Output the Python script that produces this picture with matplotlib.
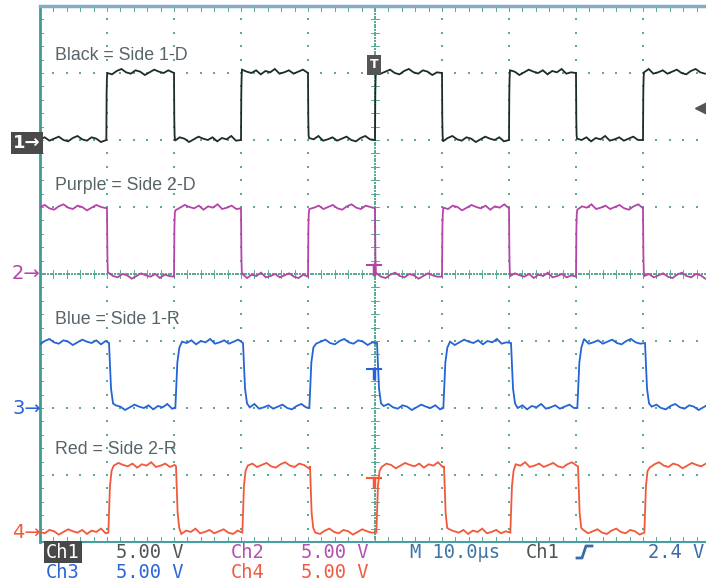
import numpy as np
import matplotlib
matplotlib.use("Agg")
import matplotlib.pyplot as plt
from matplotlib.lines import Line2D

# ---------------- data ----------------
time_range_us = [-50.0, 50.0]          # 10 div x 10.0 us/div
volts_per_div = 5.0
n_vdiv = 8

# toggle times (us) of each channel
ch1_edges = [-40.1, -30.0, -20.0, -10.0, 0.0, 10.0, 20.0, 30.0, 40.0]
ch2_edges = [-40.0, -30.0, -20.0, -10.0, 0.0, 10.0, 20.0, 30.0, 40.0]
ch3_edges = [-39.7, -29.8, -19.7, -9.8, 0.3, 10.2, 20.3, 30.2, 40.3]
ch4_edges = [-39.8, -29.7, -19.8, -9.7, 0.2, 10.3, 20.2, 30.3, 40.2]
ch_start_high = [False, True, True, False]
# levels (V)
ch_low = [0.0, -0.2, 0.0, -0.05]
ch_high = [5.0, 4.9, 4.85, 4.9]
# vertical position of channel ground (div)
ch_pos = [6.0, 4.0, 2.0, 0.15]
# small ripple seen on the flat parts (V)
ripple = [0.05, 0.2, -0.05, 0.1, 0.25, 0.0, -0.1, 0.15, 0.3, 0.05, -0.05, 0.2,
          0.1, -0.15, 0.05, 0.25, 0.1, 0.0, 0.2, -0.1, 0.15, 0.05, 0.3, -0.05]

labels = ["Black = Side 1-D", "Purple = Side 2-D", "Blue = Side 1-R", "Red = Side 2-R"]
ch_names = ["Ch1", "Ch2", "Ch3", "Ch4"]
ch_scale_text = ["5.00 V", "5.00 V", "5.00 V", "5.00 V"]
timebase_text = "M 10.0\u00b5s"
trig_src_text = "Ch1"
trig_level_text = "2.4 V"

# ---------------- styles ----------------
colors = ["#1c2c2a", "#b544a8", "#2563d6", "#f2583a"]
rise_us = [0.15, 0.2, 1.0, 0.8]
grid_col = "#5aab95"
W, H = 706, 587

fig = plt.figure(figsize=(W / 100, H / 100), dpi=100)
fig.patch.set_facecolor("white")
ax = fig.add_axes([40 / W, 45 / H, 670 / W, 536 / H])
ax.set_xlim(*time_range_us)
ax.set_ylim(0, n_vdiv)
ax.set_xticks([])
ax.set_yticks([])
ax.spines["right"].set_visible(False)
ax.spines["left"].set_color("#3f9a98")
ax.spines["left"].set_linewidth(2.0)
ax.spines["top"].set_color("#82acc0")
ax.spines["top"].set_linewidth(2.5)
ax.spines["bottom"].set_color("#4a9ea0")
ax.spines["bottom"].set_linewidth(1.5)

# ---------------- graticule ----------------
tmin, tmax = time_range_us
xdiv = np.arange(tmin, tmax + 0.01, 10.0)
for xv in xdiv[1:]:
    if abs(xv) < 1e-6:
        continue
    ys = np.arange(0, n_vdiv + 0.001, 0.2)
    ax.scatter(np.full_like(ys, xv), ys, s=1.8, marker="s", color=grid_col, lw=0, zorder=1)
for yv in range(1, n_vdiv):
    if yv == 4:
        continue
    xs = np.arange(tmin, tmax + 0.01, 2.0)
    ax.scatter(xs, np.full_like(xs, yv), s=1.8, marker="s", color=grid_col, lw=0, zorder=1)
# centre lines: dense dots + minor ticks
ys = np.arange(0, n_vdiv + 0.001, 0.04)
ax.scatter(np.zeros_like(ys), ys, s=1.0, marker="s", color=grid_col, lw=0, zorder=1)
xs = np.arange(tmin, tmax + 0.01, 0.4)
ax.scatter(xs, np.full_like(xs, 4.0), s=1.0, marker="s", color=grid_col, lw=0, zorder=1)
for yv in np.arange(0, n_vdiv + 0.001, 0.2):
    ax.plot([-0.6, 0.6], [yv, yv], color=grid_col, lw=0.7, zorder=1)
for xv in np.arange(tmin, tmax + 0.01, 2.0):
    ax.plot([xv, xv], [4 - 0.06, 4 + 0.06], color=grid_col, lw=0.7, zorder=1)
# border ticks
for yv in np.arange(0, n_vdiv + 0.001, 0.2):
    ax.plot([tmin, tmin + 0.5], [yv, yv], color=grid_col, lw=0.7, zorder=1)
for xv in np.arange(tmin, tmax + 0.01, 2.0):
    ax.plot([xv, xv], [n_vdiv - 0.07, n_vdiv], color=grid_col, lw=0.7, zorder=1)
    ax.plot([xv, xv], [0, 0.07], color=grid_col, lw=0.7, zorder=1)


# ---------------- traces ----------------
def build_trace(edges, start_high, low, high, rise, phase):
    bounds = [tmin] + list(edges) + [tmax]
    state = start_high
    tt, vv = [], []
    for i in range(len(bounds) - 1):
        a, b = bounds[i], bounds[i + 1]
        level = high if state else low
        a0 = a + (rise if i > 0 else 0.0)
        ts = np.arange(a0, b - 0.2, 0.7)
        for k, t in enumerate(ts):
            tt.append(t)
            vv.append(level + ripple[(k + phase + 5 * i) % len(ripple)])
        if i < len(bounds) - 2:
            nxt = low if state else high
            d = nxt - level
            tt += [b, b + 0.3 * rise, b + 0.6 * rise]
            vv += [level, level + 0.7 * d, level + 0.93 * d]
        state = not state
    return np.array(tt), np.array(vv)


all_edges = [ch1_edges, ch2_edges, ch3_edges, ch4_edges]
for c in range(4):
    t, v = build_trace(all_edges[c], ch_start_high[c], ch_low[c], ch_high[c], rise_us[c], 3 * c)
    ax.plot(t, ch_pos[c] + v / volts_per_div, color=colors[c], lw=1.3, zorder=3,
            solid_joinstyle="miter")


def fpx(x, y):
    return x / W, 1 - y / H


# labels
label_y = [55, 186, 320, 449]
for c in range(4):
    fig.text(*fpx(55, label_y[c]), labels[c], fontsize=12.8, color="#56646a",
             family="Liberation Sans", va="center", ha="left")

# channel markers on left
marker_y = [143, 274, 409, 532]
fig.text(*fpx(13, 143), "1\u2192", fontsize=13, color="white", family="DejaVu Sans",
         va="center", ha="left", fontweight="bold",
         bbox=dict(boxstyle="square,pad=0.12", fc="#4a4a4a", ec="none"))
for c in range(1, 4):
    fig.text(*fpx(12, marker_y[c]), f"{c + 1}\u2192", fontsize=14, color=colors[c],
             family="DejaVu Sans", va="center", ha="left")

# trigger position "T" at top
fig.text(*fpx(374, 65), "T", fontsize=9, color="white", family="DejaVu Sans",
         va="center", ha="center", fontweight="bold",
         bbox=dict(boxstyle="square,pad=0.25", fc="#555555", ec="none"))
# trigger level arrow at right
fig.add_artist(Line2D([701 / W], [1 - 108 / H], marker="<", markersize=9,
                      color="#555555", transform=fig.transFigure))

# small T marks on channels at trigger point
for (yy, col) in [(265, colors[1]), (369, colors[2]), (478, colors[3])]:
    fig.add_artist(Line2D([367 / W, 381 / W], [1 - yy / H] * 2, color=col, lw=1.5,
                          transform=fig.transFigure))
    fig.add_artist(Line2D([374 / W, 374 / W], [1 - yy / H, 1 - (yy + 9) / H], color=col,
                          lw=2.5, transform=fig.transFigure))

# ---------------- status bar ----------------
mono = "DejaVu Sans Mono"
fs = 13.5
fig.text(*fpx(46, 552), ch_names[0], fontsize=fs, color="white", family=mono, va="center",
         bbox=dict(boxstyle="square,pad=0.1", fc="#484848", ec="none"))
fig.text(*fpx(116, 552), ch_scale_text[0], fontsize=fs, color="#4e5658", family=mono, va="center")
fig.text(*fpx(231, 552), ch_names[1], fontsize=fs, color="#b24fb0", family=mono, va="center")
fig.text(*fpx(301, 552), ch_scale_text[1], fontsize=fs, color="#b24fb0", family=mono, va="center")
fig.text(*fpx(46, 573), ch_names[2], fontsize=fs, color="#2a66d8", family=mono, va="center")
fig.text(*fpx(116, 573), ch_scale_text[2], fontsize=fs, color="#2a66d8", family=mono, va="center")
fig.text(*fpx(231, 573), ch_names[3], fontsize=fs, color="#f25a40", family=mono, va="center")
fig.text(*fpx(301, 573), ch_scale_text[3], fontsize=fs, color="#f25a40", family=mono, va="center")
fig.text(*fpx(410, 552), timebase_text, fontsize=fs, color="#3c76a6", family=mono, va="center")
fig.text(*fpx(526, 552), trig_src_text, fontsize=fs, color="#4e5658", family=mono, va="center")
fig.add_artist(Line2D([577 / W, 582 / W, 586 / W, 592 / W],
                      [1 - 558 / H, 1 - 558 / H, 1 - 546 / H, 1 - 546 / H],
                      color="#3c6aa8", lw=2, transform=fig.transFigure))
fig.text(*fpx(648, 552), trig_level_text, fontsize=fs, color="#3c6aa8", family=mono, va="center")

fig.savefig("out.png", dpi=100, facecolor="white")
